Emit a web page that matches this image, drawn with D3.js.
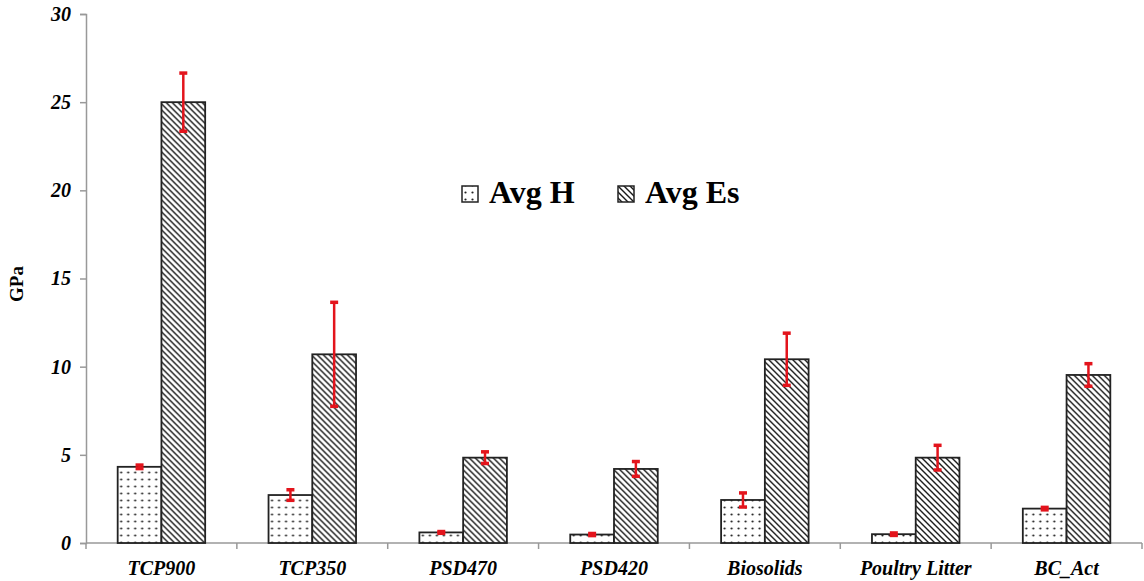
<!DOCTYPE html>
<html>
  <head>
    <meta charset="utf-8">
    <title>GPa</title>
    <script src="https://d3js.org/d3.v7.min.js"></script>
    <style>
    body{margin:0; background:white;}
    svg{display:block; background-color:white;}
    .tick-label{font-family:"Liberation Serif", "Times New Roman", serif; font-weight:bold; font-style:italic;}
    </style>
  </head>
  <body>
    <script>
    // data
    var categories = ["TCP900", "TCP350", "PSD470", "PSD420", "Biosolids", "Poultry Litter", "BC_Act"];
    var avgH   = [4.32, 2.72, 0.6, 0.48, 2.44, 0.5, 1.95];
    var errH   = [0.1, 0.3, 0.05, 0.06, 0.4, 0.07, 0.07];
    var avgEs  = [25.0, 10.7, 4.84, 4.2, 10.42, 4.84, 9.53];
    var errEs  = [1.65, 2.95, 0.33, 0.42, 1.48, 0.7, 0.64];
    var seriesNames = ["Avg H", "Avg Es"];
    var yTicks = [0, 5, 10, 15, 20, 25, 30];

    var width = 1144, height = 581;
    var svg = d3.select("body").append("svg").attr("width", width).attr("height", height);

    // patterns
    var defs = svg.append("defs");
    var dots = defs.append("pattern").attr("id", "dots").attr("patternUnits", "userSpaceOnUse")
        .attr("width", 7).attr("height", 7);
    dots.append("rect").attr("width", 7).attr("height", 7).attr("fill", "white");
    dots.append("circle").attr("cx", 3.5).attr("cy", 3.5).attr("r", 1.1).attr("fill", "#222");

    var hatch = defs.append("pattern").attr("id", "hatch").attr("patternUnits", "userSpaceOnUse")
        .attr("width", 6).attr("height", 6);
    hatch.append("rect").attr("width", 6).attr("height", 6).attr("fill", "white");
    hatch.append("path").attr("d", "M0,0L6,6M-1,5L1,7M5,-1L7,1")
        .attr("stroke", "#1a1a1a").attr("stroke-width", 1.4);

    var fills = ["url(#dots)", "url(#hatch)"];

    // scales
    var y = d3.scaleLinear().domain([0, 30]).range([543, 14]);
    var x0 = d3.scaleBand().domain(categories).range([86, 1142]).paddingInner(0.42).paddingOuter(0.21);
    var x1 = d3.scaleBand().domain(seriesNames).range([0, x0.bandwidth()]);
    var step = x0.step();

    // y axis
    var yAxis = svg.append("g").attr("transform", "translate(86,0)")
        .call(d3.axisLeft(y).tickValues(yTicks).tickSize(6).tickPadding(9));
    yAxis.select(".domain").attr("stroke", "#999").attr("stroke-width", 1.5);
    yAxis.selectAll(".tick line").attr("stroke", "#999").attr("stroke-width", 1.5);
    yAxis.selectAll(".tick text").attr("class", "tick-label").attr("font-size", 20).attr("fill", "#000");

    // x axis (category boundaries as ticks)
    svg.append("line").attr("x1", 86).attr("x2", 1142).attr("y1", y(0)).attr("y2", y(0))
        .attr("stroke", "#999").attr("stroke-width", 1.5);
    var bounds = categories.map(function(c){ return x0(c) - step * 0.21; });
    bounds.push(1142);
    svg.append("g").selectAll("line").data(bounds).enter().append("line")
        .attr("x1", function(d){ return d; }).attr("x2", function(d){ return d; })
        .attr("y1", y(0)).attr("y2", y(0) + 6)
        .attr("stroke", "#999").attr("stroke-width", 1.5);

    svg.append("g").selectAll("text").data(categories).enter().append("text")
        .attr("class", "tick-label")
        .attr("x", function(d){ return x0(d) + x0.bandwidth() / 2; })
        .attr("y", 575)
        .attr("text-anchor", "middle")
        .attr("font-size", 20)
        .attr("fill", "#000")
        .text(function(d){ return d; });

    // y title
    svg.append("text")
        .attr("transform", "translate(23,284) rotate(-90)")
        .attr("text-anchor", "middle")
        .attr("font-family", "Liberation Serif, serif")
        .attr("font-weight", "bold")
        .attr("font-size", 19)
        .attr("fill", "#000")
        .text("GPa");

    // bars
    var rows = categories.map(function(c, i){
      return [
        {cat: c, key: "Avg H", v: avgH[i], e: errH[i], s: 0},
        {cat: c, key: "Avg Es", v: avgEs[i], e: errEs[i], s: 1}
      ];
    });

    var groups = svg.append("g").selectAll("g").data(rows).enter().append("g")
        .attr("transform", function(d){ return "translate(" + x0(d[0].cat) + ",0)"; });

    groups.selectAll("rect").data(function(d){ return d; }).enter().append("rect")
        .attr("x", function(d){ return x1(d.key); })
        .attr("y", function(d){ return y(d.v); })
        .attr("width", x1.bandwidth())
        .attr("height", function(d){ return y(0) - y(d.v); })
        .attr("fill", function(d){ return fills[d.s]; })
        .attr("stroke", "#222")
        .attr("stroke-width", 1.8);

    // error bars
    var err = groups.selectAll("g.err").data(function(d){ return d; }).enter().append("g").attr("class", "err");
    err.append("line")
        .attr("x1", function(d){ return x1(d.key) + x1.bandwidth() / 2; })
        .attr("x2", function(d){ return x1(d.key) + x1.bandwidth() / 2; })
        .attr("y1", function(d){ return y(d.v + d.e); })
        .attr("y2", function(d){ return y(d.v - d.e); })
        .attr("stroke", "#e3141c").attr("stroke-width", 2.5);
    [1, -1].forEach(function(sign){
      err.append("line")
          .attr("x1", function(d){ return x1(d.key) + x1.bandwidth() / 2 - 4; })
          .attr("x2", function(d){ return x1(d.key) + x1.bandwidth() / 2 + 4; })
          .attr("y1", function(d){ return y(d.v + sign * d.e); })
          .attr("y2", function(d){ return y(d.v + sign * d.e); })
          .attr("stroke", "#e3141c").attr("stroke-width", 3.5);
    });

    // legend
    var legend = svg.append("g");
    var legX = [462, 618];
    seriesNames.forEach(function(name, i){
      legend.append("rect").attr("x", legX[i]).attr("y", 186).attr("width", 16).attr("height", 16)
          .attr("fill", fills[i]).attr("stroke", "#222").attr("stroke-width", 1.5);
      legend.append("text").attr("x", legX[i] + 27).attr("y", 203)
          .attr("font-family", "Liberation Serif, serif")
          .attr("font-weight", "bold")
          .attr("font-size", 32)
          .attr("fill", "#000")
          .text(name);
    });
    </script>
  </body>
</html>
